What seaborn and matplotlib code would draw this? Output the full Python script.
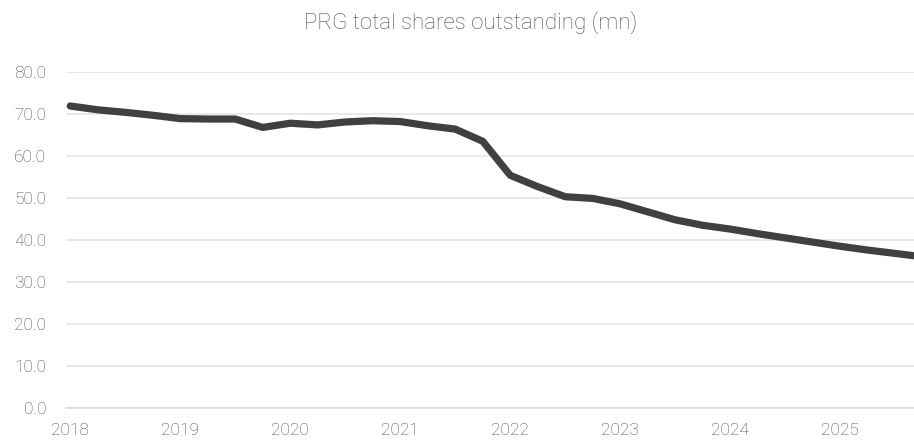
import matplotlib
matplotlib.use("Agg")
import matplotlib.pyplot as plt
import seaborn as sns
import pandas as pd
import numpy as np

# quarterly points
quarters = [2018.00, 2018.25, 2018.50, 2018.75,
            2019.00, 2019.25, 2019.50, 2019.75,
            2020.00, 2020.25, 2020.50, 2020.75,
            2021.00, 2021.25, 2021.50, 2021.75,
            2022.00, 2022.25, 2022.50, 2022.75,
            2023.00, 2023.25, 2023.50, 2023.75,
            2024.00, 2024.25, 2024.50, 2024.75,
            2025.00, 2025.25, 2025.50, 2025.75]
shares = [71.9, 71.0, 70.4, 69.7,
          68.9, 68.8, 68.8, 66.8,
          67.8, 67.4, 68.1, 68.4,
          68.2, 67.2, 66.4, 63.5,
          55.4, 52.7, 50.3, 49.9,
          48.6, 46.7, 44.8, 43.5,
          42.6, 41.5, 40.5, 39.5,
          38.5, 37.6, 36.8, 36.0]
year_ticks = [2018, 2019, 2020, 2021, 2022, 2023, 2024, 2025]
y_ticks = [0, 10, 20, 30, 40, 50, 60, 70, 80]

df = pd.DataFrame({"quarter": quarters, "shares": shares})

sns.set_style("white")
plt.rcParams["font.family"] = ["Roboto", "DejaVu Sans"]

fig = plt.figure(figsize=(9.14, 4.43), dpi=100)
ax = fig.add_axes([0.072, 0.079, 0.928, 0.7585])

sns.lineplot(data=df, x="quarter", y="shares", ax=ax, color="#404040",
             linewidth=5.2, solid_joinstyle="round", solid_capstyle="round")

ax.set_xlim(2017.96, 2025.67)
ax.set_ylim(0, 80)
ax.set_yticks(y_ticks)
ax.set_yticklabels([f"{v:.1f}" for v in y_ticks])
ax.set_xticks(year_ticks)
ax.set_xticklabels([str(y) for y in year_ticks])
ax.yaxis.grid(True, color="#e3e3e3", linewidth=1.1)
ax.set_axisbelow(True)
for side in ["top", "right", "left"]:
    ax.spines[side].set_visible(False)
ax.spines["bottom"].set_color("#d9d9d9")
ax.spines["bottom"].set_linewidth(1.1)
ax.tick_params(axis="both", length=0, labelsize=12.5, labelcolor="#4d4d4d")
ax.tick_params(axis="y", pad=14)
ax.tick_params(axis="x", pad=11)
for lab in ax.get_xticklabels() + ax.get_yticklabels():
    lab.set_fontweight("light")
ax.set_xlabel("")
ax.set_ylabel("")

fig.text(0.515, 0.95, "PRG total shares outstanding (mn)", ha="center", va="center",
         fontsize=16, color="#4d4d4d", fontweight="light")

fig.savefig("out.png", dpi=100)
